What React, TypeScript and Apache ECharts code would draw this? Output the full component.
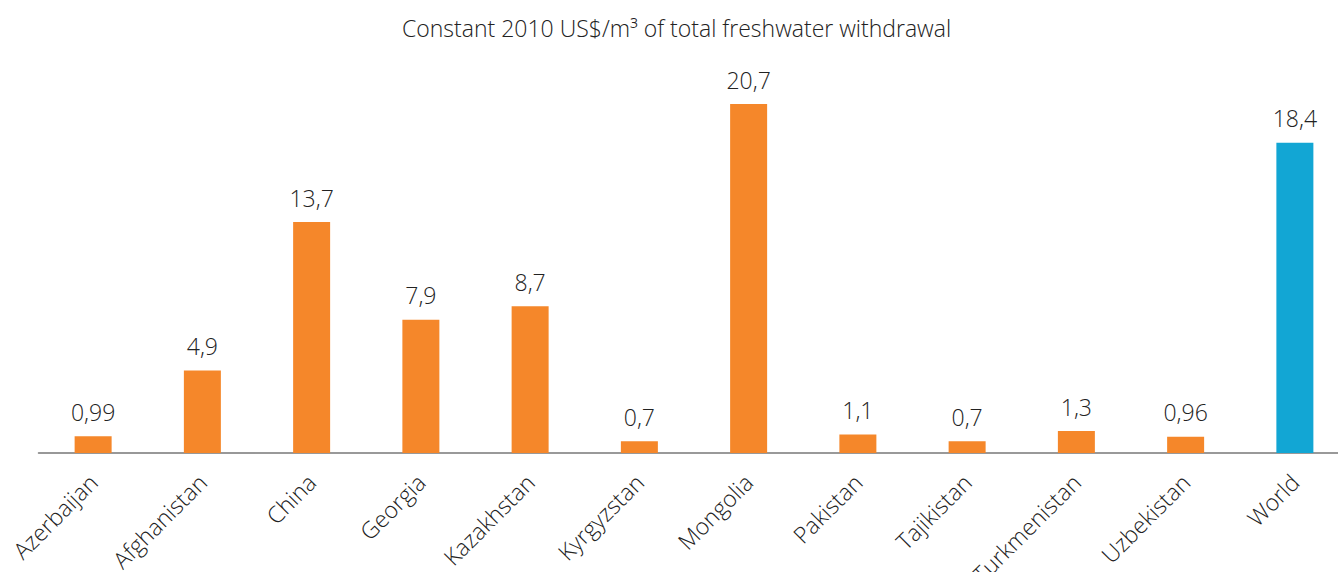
import React, { useEffect, useRef } from "react";
import * as echarts from "echarts";

const titleText = "Constant 2010 US$/m³ of total freshwater withdrawal";
const categories = [
  "Azerbaijan",
  "Afghanistan",
  "China",
  "Georgia",
  "Kazakhstan",
  "Kyrgyzstan",
  "Mongolia",
  "Pakistan",
  "Tajikistan",
  "Turkmenistan",
  "Uzbekistan",
  "World",
];
const values = [0.99, 4.9, 13.7, 7.9, 8.7, 0.7, 20.7, 1.1, 0.7, 1.3, 0.96, 18.4];
const orange = "#F5872A";
const blue = "#12A6D4";
const FONT = "Open Sans";
const FS = 23;

export default function App() {
  const ref = useRef<HTMLDivElement>(null);
  useEffect(() => {
    if (!ref.current) return;
    const chart = echarts.init(ref.current, null, { renderer: "svg" });
    chart.setOption({
      animation: false,
      title: {
        text: titleText,
        left: 397,
        top: 11,
        textStyle: { fontFamily: FONT, fontWeight: 300, fontSize: FS, color: "#222" },
      },
      grid: {
        left: 38.5,
        width: 1311,
        top: 48.4,
        bottom: 119,
        outerBoundsMode: "none",
        containLabel: false,
      },
      xAxis: {
        type: "category",
        data: categories,
        axisLine: { lineStyle: { color: "#777", width: 1.5 } },
        axisTick: { alignWithLabel: false, length: 6, lineStyle: { color: "#777", width: 1.5 } },
        axisLabel: {
          interval: 0,
          rotate: 45,
          margin: 25,
          fontFamily: FONT,
          fontWeight: 300,
          fontSize: FS,
          color: "#222",
        },
      },
      yAxis: {
        type: "value",
        min: 0,
        max: 24,
        show: false,
        splitLine: { show: false },
      },
      series: [
        {
          type: "bar",
          barWidth: 37,
          data: values.map((v, i) => ({
            value: v,
            itemStyle: { color: categories[i] === "World" ? blue : orange },
          })),
          label: {
            show: true,
            position: "top",
            distance: 13,
            fontFamily: FONT,
            fontWeight: 300,
            fontSize: FS,
            color: "#222",
            formatter: (p: any) => String(p.value).replace(".", ","),
          },
        },
      ],
    });
    return () => chart.dispose();
  }, []);
  return (
    <div
      ref={ref}
      style={{ position: "absolute", left: 0, top: 0, width: 1338, height: 572 }}
    />
  );
}
